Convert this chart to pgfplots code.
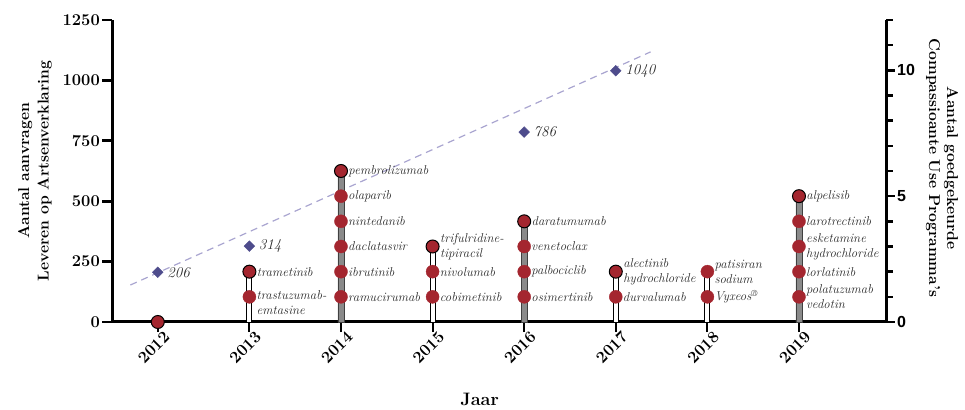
\documentclass[border=0pt]{standalone}
\usepackage{pgfplots}
\pgfplotsset{compat=1.18}
\usepackage{fontspec}
\newfontfamily\arialfont{Liberation Sans}
\definecolor{cred}{HTML}{A4262F}
\definecolor{cdia}{HTML}{4E4C8C}
\definecolor{cdash}{HTML}{A9A5D0}
\definecolor{ctext}{HTML}{2B2B2B}
\definecolor{cstem}{HTML}{8A8A8A}
\tikzset{
  lbl/.style={anchor=west, xshift=5pt, font=\itshape\fontsize{12.8}{14.8}\selectfont, text=ctext, align=left, inner sep=2pt},
}
\pgfplotsset{
  geom/.style={at={(112pt,87pt)}, anchor=south west, scale only axis, width=774pt, height=302pt, xmin=2011.5, xmax=2019.95, clip=false},
}
\begin{document}
\begin{tikzpicture}
\useasboundingbox (0,0) rectangle (965pt,409pt);
% ---------- left axis ----------
\begin{axis}[geom,
  ymin=0, ymax=1250,
  axis x line*=bottom, axis y line*=left,
  axis line style={line width=3pt, black},
  ytick={0,250,500,750,1000,1250},
  xtick={2012,2013,2014,2015,2016,2017,2018,2019},
  xticklabels={2012,2013,2014,2015,2016,2017,2018,2019},
  tick align=outside, major tick length=10pt,
  ytick style={black, line width=2.8pt},
  xtick style={black, line width=2pt},
  /pgf/number format/assume math mode=true,
  /pgf/number format/1000 sep={},
  yticklabel style={font=\bfseries\fontsize{16.5}{16.5}\selectfont, inner sep=2pt},
  xticklabel style={font=\bfseries\fontsize{16.5}{16.5}\selectfont, rotate=45, anchor=east, inner sep=1pt, xshift=6pt, yshift=-8pt},
  every axis y label/.style={at={(axis description cs:-0.0995,0.5)}, rotate=90, anchor=center, align=center, font=\bfseries\fontsize{15.7}{19.5}\selectfont},
  ylabel={Aantal aanvragen\\Leveren op Artsenverklaring},
  every axis x label/.style={at={(axis description cs:0.475,-0.258)}, anchor=center, font=\bfseries\fontsize{18}{18}\selectfont},
  xlabel={Jaar},
]
\addplot[cdash, line width=1.2pt, dash pattern=on 7pt off 5pt] coordinates {(2011.70,153) (2017.38,1118)};
\addplot[only marks, mark=square*, mark size=3.8pt, mark options={rotate=45, fill=cdia, draw=cdia},
  nodes near coords, point meta=explicit symbolic,
  every node near coord/.style={anchor=west, xshift=6pt, font=\itshape\fontsize{15}{15}\selectfont, text=ctext}]
  coordinates {(2012,206)[206] (2013,314)[314] (2016,786)[786] (2017,1040)[1040]};
\end{axis}
% ---------- right axis ----------
\begin{axis}[geom,
  ymin=0, ymax=12,
  axis x line=none, axis y line*=right,
  axis line style={line width=3pt, black},
  ytick={0,5,10}, minor ytick={1,2,3,4,6,7,8,9,11,12},
  tick align=outside, major tick length=9pt, minor tick length=7pt,
  every tick/.style={black, line width=2.5pt},
  /pgf/number format/assume math mode=true,
  yticklabel style={font=\arialfont\bfseries\fontsize{16}{16}\selectfont, inner sep=2pt},
  every axis y label/.style={at={(axis description cs:1.0724,0.51)}, rotate=-90, anchor=center, align=center, font=\bfseries\fontsize{15.7}{18}\selectfont},
  ylabel={Aantal goedgekeurde\\Compassioante Use Programma’s},
]
\addplot[ybar, bar width=6pt, fill=cstem, draw=black!75, line width=0.6pt] coordinates {(2014,6) (2016,4) (2019,5)};
\addplot[ybar, bar width=5pt, fill=white, draw=black, line width=0.9pt] coordinates {(2013,2) (2015,3) (2017,2) (2018,2)};
% inner circles
\addplot[only marks, mark=*, mark size=6.5pt, mark options={fill=cred, draw=cred},
  nodes near coords, point meta=explicit symbolic, every node near coord/.style={lbl}]
  coordinates {
  (2014,1)[ramucirumab] (2014,2)[ibrutinib] (2014,3)[daclatasvir] (2014,4)[nintedanib] (2014,5)[olaparib]
  (2015,1)[cobimetinib] (2015,2)[nivolumab]
  (2016,1)[osimertinib] (2016,2)[palbociclib] (2016,3)[venetoclax]
  (2017,1)[durvalumab]
  (2018,1)[{Vyxeos\textsuperscript{®}}]
  (2018,2)[{patisiran\\sodium}]
  (2019,1)[{polatuzumab\\vedotin}] (2019,2)[lorlatinib] (2019,3)[{esketamine\\hydrochloride}] (2019,4)[larotrectinib]
  };
\addplot[only marks, mark=*, mark size=6.5pt, mark options={fill=cred, draw=cred},
  nodes near coords, point meta=explicit symbolic, every node near coord/.style={lbl, anchor=north west, yshift=8pt}]
  coordinates {(2013,1)[{trastuzumab-\\emtasine}]};
% top circles
\addplot[only marks, mark=*, mark size=6.5pt, mark options={fill=cred, draw=black, line width=1pt},
  nodes near coords, point meta=explicit symbolic, every node near coord/.style={lbl}]
  coordinates {
  (2012,0)[{}] (2013,2)[trametinib] (2014,6)[pembrolizumab] (2015,3)[{trifulridine-\\tipiracil}]
  (2016,4)[daratumumab] (2017,2)[{alectinib\\hydrochloride}] (2019,5)[alpelisib]
  };
\end{axis}
\end{tikzpicture}
\end{document}
